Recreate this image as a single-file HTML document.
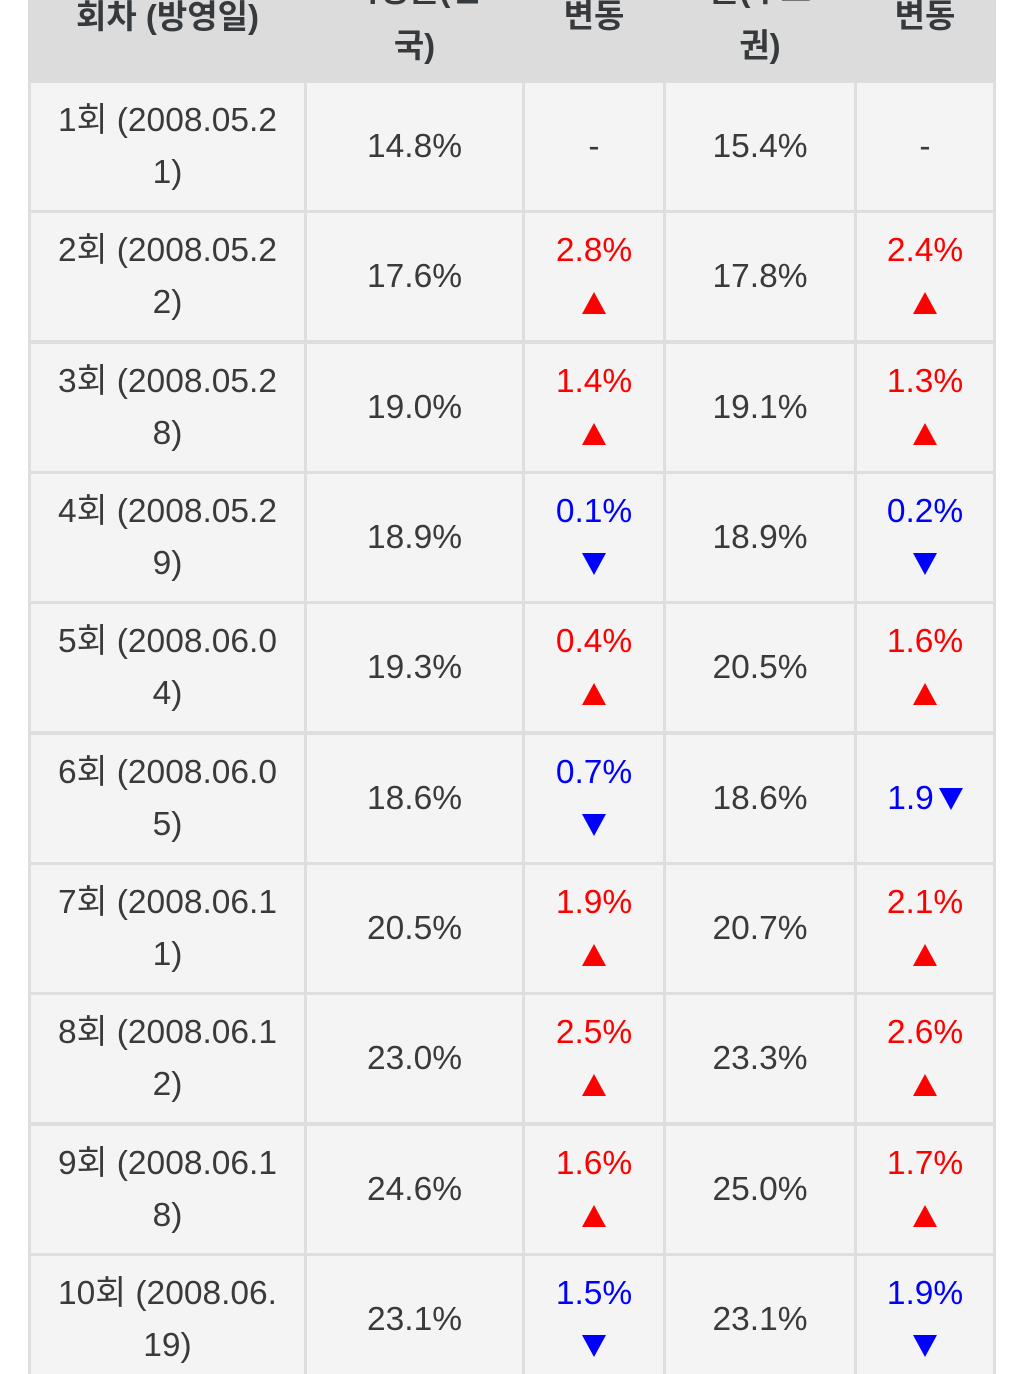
<!DOCTYPE html>
<html>
<head>
<meta charset="utf-8">
<style>
html,body{margin:0;padding:0;background:#fff;width:1024px;height:1374px;overflow:hidden;}
body{position:relative;font-family:"Liberation Sans","Noto Sans CJK KR",sans-serif;}
#tbl{position:absolute;left:28px;top:0;width:968px;height:1374px;background:#dedede;}
#hdr{position:absolute;left:28px;top:0;width:968px;height:83px;background:#dcdcdc;overflow:hidden;}
.h{position:absolute;line-height:52px;height:52px;font-size:33px;font-weight:bold;color:#373a3c;text-align:center;white-space:nowrap;}
.c{position:absolute;height:127px;background:#f4f4f4;display:flex;align-items:center;justify-content:center;flex-direction:column;text-align:center;font-size:33.5px;line-height:52px;color:#3a3a3a;white-space:nowrap;}
.c1{left:31px;width:273px;}
.c2{left:307px;width:215px;}
.c3{left:525px;width:138px;}
.c4{left:666px;width:188px;}
.c5{left:857px;width:136px;}
.r{color:#ff0000;}
.b{color:#0000ff;}
.c div{height:52px;line-height:52px;display:flex;align-items:center;justify-content:center;}
.up{display:inline-block;width:0;height:0;border-left:12px solid transparent;border-right:12px solid transparent;border-bottom:22px solid #ff0000;}
.dn{display:inline-block;width:0;height:0;border-left:12px solid transparent;border-right:12px solid transparent;border-top:22px solid #0000ff;}
</style>
</head>
<body>
<div id="tbl"></div>
<div id="hdr">
  <div class="h" style="left:3px;width:273px;top:-9px;">회차 (방영일)</div>
  <div class="h" style="left:279px;width:215px;top:-36px;">시청률(전</div>
  <div class="h" style="left:279px;width:215px;top:20px;">국)</div>
  <div class="h" style="left:497px;width:138px;top:-10px;">변동</div>
  <div class="h" style="left:638px;width:188px;top:-36px;">률(수도</div>
  <div class="h" style="left:638px;width:188px;top:20px;">권)</div>
  <div class="h" style="left:829px;width:136px;top:-10px;">변동</div>
</div>

<!-- Row 1 -->
<div class="c c1" style="top:83px;"><div>1회 (2008.05.2</div><div>1)</div></div>
<div class="c c2" style="top:83px;"><div>14.8%</div></div>
<div class="c c3" style="top:83px;"><div>-</div></div>
<div class="c c4" style="top:83px;"><div>15.4%</div></div>
<div class="c c5" style="top:83px;"><div>-</div></div>

<!-- Row 2 -->
<div class="c c1" style="top:213px;"><div>2회 (2008.05.2</div><div>2)</div></div>
<div class="c c2" style="top:213px;"><div>17.6%</div></div>
<div class="c c3" style="top:213px;"><div class="r">2.8%</div><div><span class="up"></span></div></div>
<div class="c c4" style="top:213px;"><div>17.8%</div></div>
<div class="c c5" style="top:213px;"><div class="r">2.4%</div><div><span class="up"></span></div></div>

<!-- Row 3 -->
<div class="c c1" style="top:344px;"><div>3회 (2008.05.2</div><div>8)</div></div>
<div class="c c2" style="top:344px;"><div>19.0%</div></div>
<div class="c c3" style="top:344px;"><div class="r">1.4%</div><div><span class="up"></span></div></div>
<div class="c c4" style="top:344px;"><div>19.1%</div></div>
<div class="c c5" style="top:344px;"><div class="r">1.3%</div><div><span class="up"></span></div></div>

<!-- Row 4 -->
<div class="c c1" style="top:474px;"><div>4회 (2008.05.2</div><div>9)</div></div>
<div class="c c2" style="top:474px;"><div>18.9%</div></div>
<div class="c c3" style="top:474px;"><div class="b">0.1%</div><div><span class="dn"></span></div></div>
<div class="c c4" style="top:474px;"><div>18.9%</div></div>
<div class="c c5" style="top:474px;"><div class="b">0.2%</div><div><span class="dn"></span></div></div>

<!-- Row 5 -->
<div class="c c1" style="top:604px;"><div>5회 (2008.06.0</div><div>4)</div></div>
<div class="c c2" style="top:604px;"><div>19.3%</div></div>
<div class="c c3" style="top:604px;"><div class="r">0.4%</div><div><span class="up"></span></div></div>
<div class="c c4" style="top:604px;"><div>20.5%</div></div>
<div class="c c5" style="top:604px;"><div class="r">1.6%</div><div><span class="up"></span></div></div>

<!-- Row 6 -->
<div class="c c1" style="top:735px;"><div>6회 (2008.06.0</div><div>5)</div></div>
<div class="c c2" style="top:735px;"><div>18.6%</div></div>
<div class="c c3" style="top:735px;"><div class="b">0.7%</div><div><span class="dn"></span></div></div>
<div class="c c4" style="top:735px;"><div>18.6%</div></div>
<div class="c c5" style="top:735px;"><div class="b">1.9<span class="dn" style="margin-left:5px;"></span></div></div>

<!-- Row 7 -->
<div class="c c1" style="top:865px;"><div>7회 (2008.06.1</div><div>1)</div></div>
<div class="c c2" style="top:865px;"><div>20.5%</div></div>
<div class="c c3" style="top:865px;"><div class="r">1.9%</div><div><span class="up"></span></div></div>
<div class="c c4" style="top:865px;"><div>20.7%</div></div>
<div class="c c5" style="top:865px;"><div class="r">2.1%</div><div><span class="up"></span></div></div>

<!-- Row 8 -->
<div class="c c1" style="top:995px;"><div>8회 (2008.06.1</div><div>2)</div></div>
<div class="c c2" style="top:995px;"><div>23.0%</div></div>
<div class="c c3" style="top:995px;"><div class="r">2.5%</div><div><span class="up"></span></div></div>
<div class="c c4" style="top:995px;"><div>23.3%</div></div>
<div class="c c5" style="top:995px;"><div class="r">2.6%</div><div><span class="up"></span></div></div>

<!-- Row 9 -->
<div class="c c1" style="top:1126px;"><div>9회 (2008.06.1</div><div>8)</div></div>
<div class="c c2" style="top:1126px;"><div>24.6%</div></div>
<div class="c c3" style="top:1126px;"><div class="r">1.6%</div><div><span class="up"></span></div></div>
<div class="c c4" style="top:1126px;"><div>25.0%</div></div>
<div class="c c5" style="top:1126px;"><div class="r">1.7%</div><div><span class="up"></span></div></div>

<!-- Row 10 -->
<div class="c c1" style="top:1256px;"><div>10회 (2008.06.</div><div>19)</div></div>
<div class="c c2" style="top:1256px;"><div>23.1%</div></div>
<div class="c c3" style="top:1256px;"><div class="b">1.5%</div><div><span class="dn"></span></div></div>
<div class="c c4" style="top:1256px;"><div>23.1%</div></div>
<div class="c c5" style="top:1256px;"><div class="b">1.9%</div><div><span class="dn"></span></div></div>
</body>
</html>
